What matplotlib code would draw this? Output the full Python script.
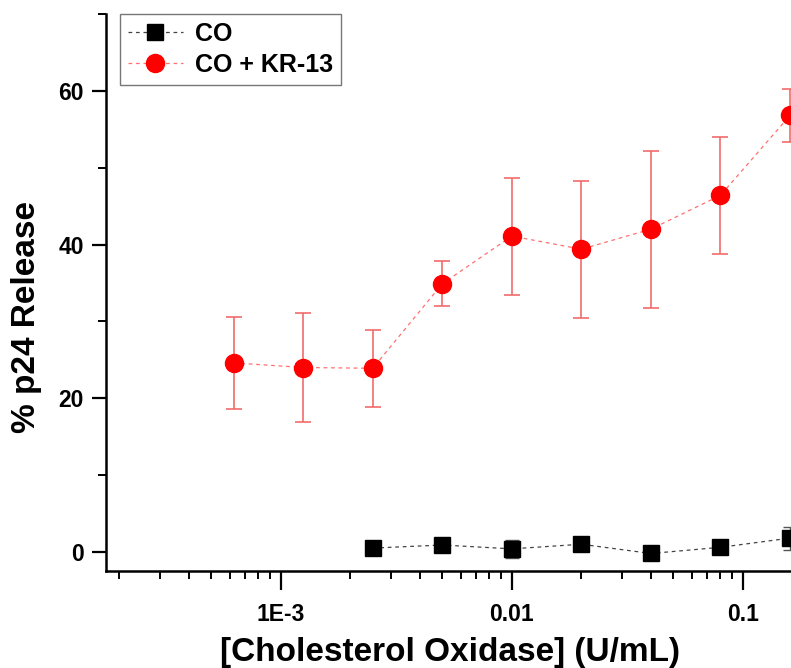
import matplotlib.pyplot as plt
from matplotlib.ticker import LogLocator, FixedLocator, MultipleLocator, NullFormatter

plt.rcParams['font.family'] = ['Liberation Sans', 'DejaVu Sans']
plt.rcParams['font.weight'] = 'bold'

# CO alone
co_x = [0.0025, 0.005, 0.01, 0.02, 0.04, 0.08, 0.16]
co_y = [0.5, 0.9, 0.4, 1.0, -0.2, 0.6, 1.8]
co_err = [0.3, 0.4, 1.2, 0.6, 0.3, 0.4, 1.5]

# CO + KR-13
kr_x = [0.000625, 0.00125, 0.0025, 0.005, 0.01, 0.02, 0.04, 0.08, 0.16]
kr_y = [24.6, 24.0, 23.9, 34.9, 41.1, 39.4, 42.0, 46.4, 56.8]
kr_err = [6.0, 7.1, 5.0, 2.9, 7.6, 8.9, 10.2, 7.6, 3.4]

fig = plt.figure(figsize=(7.91, 6.68), dpi=100)
ax = fig.add_axes([0.134, 0.145, 0.893, 0.834])

ax.errorbar(co_x, co_y, yerr=co_err, fmt='none', ecolor='#555555',
            elinewidth=1, capsize=5, capthick=1, zorder=2)
ax.plot(co_x, co_y, ls=(0, (3, 3)), lw=0.9, color='#444444',
        marker='s', ms=11, mfc='black', mec='black', label='CO', zorder=3)

ax.errorbar(kr_x, kr_y, yerr=kr_err, fmt='none', ecolor='#f26b6b',
            elinewidth=1.2, capsize=6, capthick=1.2, zorder=2)
ax.plot(kr_x, kr_y, ls=(0, (3, 3)), lw=0.9, color='#ff7070',
        marker='o', ms=13, mfc='red', mec='red', label='CO + KR-13', zorder=3)

ax.set_xscale('log')
ax.set_xlim(1.75e-4, 0.2)
ax.set_ylim(-2.5, 70)

ax.xaxis.set_major_locator(FixedLocator([1e-3, 1e-2, 1e-1]))
ax.set_xticklabels(['1E-3', '0.01', '0.1'])
ax.xaxis.set_minor_locator(LogLocator(base=10, subs=range(2, 10)))
ax.xaxis.set_minor_formatter(NullFormatter())
ax.yaxis.set_major_locator(FixedLocator([0, 20, 40, 60]))
ax.yaxis.set_minor_locator(MultipleLocator(10))

for s in ['top', 'right']:
    ax.spines[s].set_visible(False)
for s in ['left', 'bottom']:
    ax.spines[s].set_linewidth(1.8)

ax.tick_params(axis='both', which='major', direction='out', length=10,
               width=1.6, labelsize=16.5, pad=6)
ax.tick_params(axis='both', which='minor', direction='out', length=6,
               width=1.4)
ax.tick_params(axis='x', which='major', length=14, pad=9)

ax.set_xlabel('[Cholesterol Oxidase] (U/mL)', fontsize=24, fontweight='bold',
              labelpad=8)
ax.set_ylabel('% p24 Release', fontsize=24, fontweight='bold', labelpad=12)
ax.xaxis.label.set_x(0.487)
ax.yaxis.label.set_y(0.456)

leg = ax.legend(loc='upper left', bbox_to_anchor=(0.02, 1.0), fontsize=18,
                frameon=True, fancybox=False, edgecolor='#555555',
                handlelength=2.2, borderpad=0.3, labelspacing=0.3,
                handletextpad=0.5, borderaxespad=0.0)
leg.get_frame().set_linewidth(1.0)

fig.savefig('out.png', dpi=100)
